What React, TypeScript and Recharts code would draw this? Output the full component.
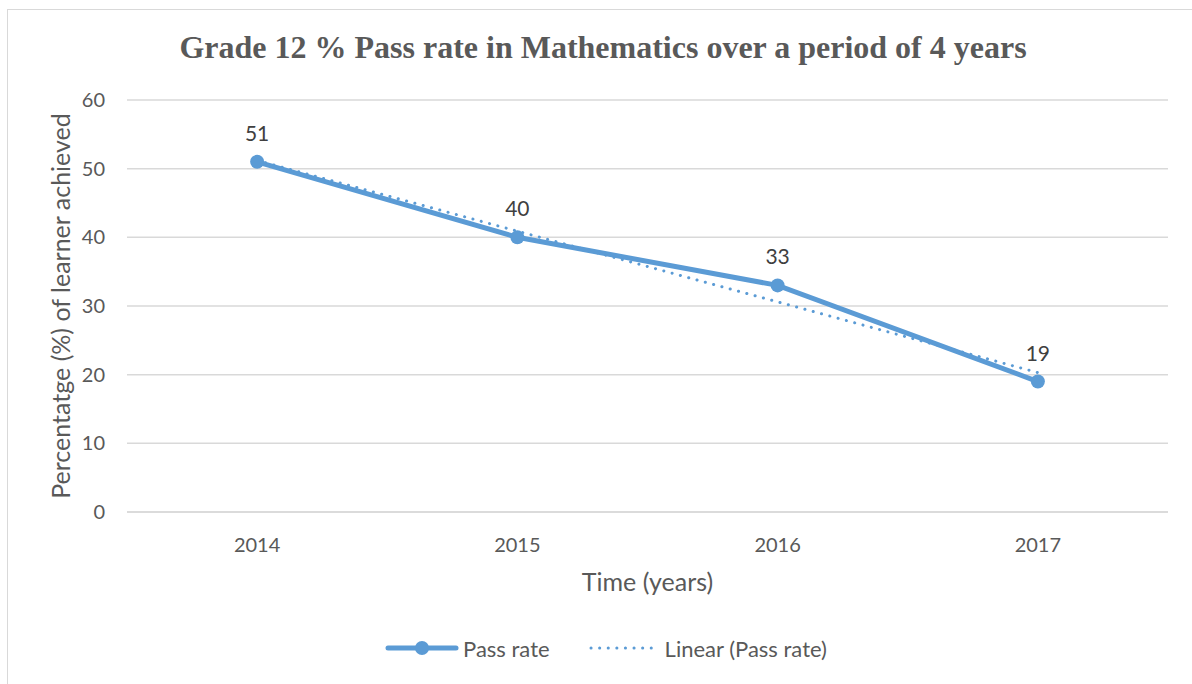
import React from "react";
import {
  ComposedChart,
  Line,
  XAxis,
  YAxis,
  CartesianGrid,
  LabelList,
  Legend,
} from "recharts";

const years = ["2014", "2015", "2016", "2017"];
const passRate = [51, 40, 33, 19];
const linearTrend = [51.2, 40.9, 30.6, 20.3];
const yTicks = [0, 10, 20, 30, 40, 50, 60];

const data = years.map((y, i) => ({
  year: y,
  pass: passRate[i],
  trend: linearTrend[i],
}));

const BLUE = "#5B9BD5";
const TXT = "#595959";
const FONT = "Lato, 'Open Sans', sans-serif";

const LegendContent = () => (
  <div
    style={{
      display: "flex",
      justifyContent: "center",
      alignItems: "center",
      height: 72,
      fontFamily: FONT,
      fontSize: 22,
      color: TXT,
      paddingLeft: 44,
      paddingTop: 0,
    }}
  >
    <svg width={74} height={20} style={{ marginRight: 4 }}>
      <line x1={3} y1={10} x2={71} y2={10} stroke={BLUE} strokeWidth={5} strokeLinecap="round" />
      <circle cx={37} cy={10} r={7} fill={BLUE} />
    </svg>
    <span style={{ marginRight: 37 }}>Pass rate</span>
    <svg width={70} height={20} style={{ marginRight: 8 }}>
      <line
        x1={4}
        y1={10}
        x2={66}
        y2={10}
        stroke={BLUE}
        strokeWidth={3}
        strokeDasharray="0.1 8.5"
        strokeLinecap="round"
      />
    </svg>
    <span>Linear (Pass rate)</span>
  </div>
);

const YLabel = (props: any) => {
  const { viewBox } = props;
  const cy = viewBox.y + viewBox.height / 2;
  return (
    <text
      x={60}
      y={cy}
      transform={`rotate(-90 60 ${cy})`}
      textAnchor="middle"
      dominantBaseline="central"
      fill={TXT}
      fontFamily={FONT}
      fontSize={25}
    >
      Percentatge (%) of learner achieved
    </text>
  );
};

const XLabel = (props: any) => {
  const { viewBox } = props;
  const cx = viewBox.x + viewBox.width / 2;
  return (
    <text
      x={cx}
      y={581}
      textAnchor="middle"
      dominantBaseline="central"
      fill={TXT}
      fontFamily={FONT}
      fontSize={25}
    >
      Time (years)
    </text>
  );
};

export default function App() {
  return (
    <div
      style={{
        position: "absolute",
        left: 0,
        top: 0,
        width: 1192,
        height: 684,
        overflow: "hidden",
        background: "#fff",
      }}
    >
      <div
        style={{
          position: "absolute",
          left: 7,
          top: 9,
          width: 1250,
          height: 750,
          border: "1px solid #d9d9d9",
        }}
      />
      <div
        style={{
          position: "absolute",
          left: 0,
          top: 27,
          width: 1206,
          textAlign: "center",
          fontFamily: "'Liberation Serif', 'Times New Roman', serif",
          fontWeight: "bold",
          fontSize: 32,
          color: TXT,
          lineHeight: "40px",
        }}
      >
        Grade 12 % Pass rate in Mathematics over a period of 4 years
      </div>
      <div style={{ position: "absolute", left: 0, top: 0 }}>
        <ComposedChart
          width={1192}
          height={684}
          data={data}
          margin={{ top: 100, right: 24, bottom: 0, left: 0 }}
        >
          <CartesianGrid vertical={false} stroke="#d9d9d9" strokeWidth={1.5} />
          <XAxis
            dataKey="year"
            scale="band"
            height={100}
            tickLine={false}
            tickSize={0}
            tickMargin={26}
            axisLine={{ stroke: "#d9d9d9", strokeWidth: 1.5 }}
            tick={{ fill: TXT, fontSize: 20, fontFamily: FONT }}
            label={<XLabel />}
          />
          <YAxis
            width={127}
            domain={[0, 60]}
            ticks={yTicks}
            interval={0}
            axisLine={false}
            tickLine={false}
            tickSize={0}
            tickMargin={22}
            tick={{ fill: TXT, fontSize: 20, fontFamily: FONT }}
            label={<YLabel />}
          />
          <Legend verticalAlign="bottom" height={72} content={<LegendContent />} />
          <Line
            type="linear"
            dataKey="pass"
            name="Pass rate"
            stroke={BLUE}
            strokeWidth={5}
            dot={{ r: 7, fill: BLUE, stroke: BLUE, strokeWidth: 0 }}
            isAnimationActive={false}
          >
            <LabelList
              dataKey="pass"
              position="top"
              offset={21}
              fill="#404040"
              fontSize={21}
              fontFamily={FONT}
            />
          </Line>
          <Line
            type="linear"
            dataKey="trend"
            name="Linear (Pass rate)"
            stroke={BLUE}
            strokeWidth={3}
            strokeDasharray="0.1 8.5"
            strokeLinecap="round"
            dot={false}
            activeDot={false}
            isAnimationActive={false}
          />
        </ComposedChart>
      </div>
    </div>
  );
}
